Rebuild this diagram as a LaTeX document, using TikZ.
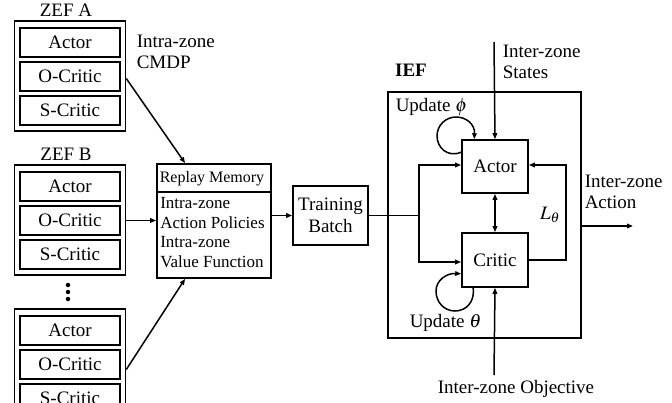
\documentclass[tikz,border=0pt]{standalone}
\usepackage{mathptmx}
\usepackage{fontspec}
\setmainfont{Liberation Serif}
\usetikzlibrary{arrows.meta,calc}

\begin{document}
\begin{tikzpicture}[x=1pt,y=-1pt,
  line width=1.5pt,
  tip/.tip={Triangle[length=6pt,width=4.5pt]},
  arr/.style={-tip},
  dbl/.style={tip-tip},
  txt/.style={font=\fontsize{19}{21}\selectfont, inner sep=0pt, align=left},
  rmhead/.style={font=\fontsize{16}{19}\selectfont, inner sep=0pt},
  rmtxt/.style={font=\fontsize{17}{19.4}\selectfont, inner sep=0pt, align=left},
  zef/.style={draw, line width=1.6pt, minimum width=111pt, minimum height=110pt, inner sep=0pt},
  part/.style={draw, line width=1.9pt, minimum width=100pt, minimum height=29pt, inner sep=0pt,
               font=\fontsize{19}{21}\selectfont},
  blk/.style={draw, line width=1.6pt, inner sep=0pt, align=center,
              font=\fontsize{19}{22}\selectfont},
  dot/.style={circle, fill, inner sep=0pt, minimum size=4.5pt}
]
\clip (0,0) rectangle (672,402);

% ---- zone execution frameworks (left column) ----
\foreach \n [count=\i from 0] in {A, B, C} {
  \pgfmathsetmacro{\top}{21+144*\i}
  \node[zef] (zef\n) at (70,\top+55) {};
  \node[part] (act\n) at (70,\top+21.5) {Actor};
  \node[part] (oc\n)  at (70,\top+55.5) {O-Critic};
  \node[part] (sc\n)  at (70,\top+89.5) {S-Critic};
}
\node[txt] (labA) at (66,10) {ZEF A};
\node[txt] (labB) at (66,154) {ZEF B};
\node[dot] (d1) at (68,285) {};
\node[dot] (d2) at (68,292) {};
\node[dot] (d3) at (68,299) {};

\node[txt, anchor=west] (cmdp) at (136,52) {Intra-zone\\CMDP};

% ---- replay memory ----
\node[draw, line width=1.6pt, minimum width=114pt, minimum height=114pt, inner sep=0pt]
  (rm) at (214,221) {};
\draw[line width=1.6pt] ($(rm.north west)+(0,29)$) -- ($(rm.north east)+(0,29)$);
\node[rmhead] (rmh) at (212,179) {Replay Memory};
\node[rmtxt, anchor=north west] (rmb) at (159.5,197)
  {Intra-zone\\Action Policies\\Intra-zone\\Value Function};

\coordinate (inA) at ($(rm.north west)!0.25!(rm.north east)$);
\coordinate (inC) at ($(rm.south west)!0.25!(rm.south east)$);
\draw[arr] (zefA.east |- ocA) ++(0,2) -- (inA);
\draw[arr] (zefB.east |- ocB) -- (rm.west |- ocB);
\draw[arr] (zefC.east |- ocC) ++(0,5) -- (inC);

% ---- training batch ----
\node[blk, minimum width=75pt, minimum height=59pt] (tb) at (330.5,215.5) {Training\\Batch};
\draw[arr] (rm.east |- tb.west) -- (tb.west);

% ---- inter-zone execution framework ----
\node[draw, line width=1.6pt, minimum width=193pt, minimum height=246pt, inner sep=0pt]
  (ief) at (484.5,215) {};
\node[txt, font=\fontsize{19}{21}\selectfont\bfseries] (ieflab) at (411,70) {IEF};
\node[blk, minimum width=66pt, minimum height=53pt] (actor) at (495,166.5) {Actor};
\node[blk, minimum width=66pt, minimum height=54pt] (critic) at (495,260) {Critic};

\coordinate (br) at (419,215.5);
\draw (tb.east) -- (br);
\draw[arr] (br) |- ($(actor.west)+(0,-1.5)$);
\draw[arr] (br) |- ($(critic.west)+(0,2)$);
\draw[dbl] (actor.south) -- (critic.north);

% loss path back to the actor
\coordinate (lt) at (566,0);
\draw[arr] (critic.east) -- (lt |- critic.east) |- ($(actor.east)+(0,-1.5)$);
\node[txt] (ltheta) at (550,215) {$L_\theta$};

% self-update loops
\coordinate (aS) at ($(actor.north west)+(0,13)$);
\coordinate (aE) at ($(actor.north west)+(13,0)$);
\draw[arr] (aS) .. controls (447,158) and (437,147) .. (437,136)
  .. controls (437,125) and (446,117) .. (456,117)
  .. controls (466,117) and (475,124) .. (aE);
\node[txt, anchor=west] (updphi) at (395,107) {Update $\phi$};

\coordinate (cS) at ($(critic.south west)+(12,0)$);
\coordinate (cE) at ($(critic.south west)+(0,-14)$);
\draw[arr] (cS) .. controls (475,302) and (466,311) .. (455,311)
  .. controls (444,311) and (436,302) .. (436,291)
  .. controls (436,280) and (447,273) .. (cE);
\node[txt, anchor=west] (updth) at (409,323) {Update $\theta$};

% external inputs and output
\coordinate (sIn) at (494,42);
\draw[arr] (sIn) -- (actor.north);
\node[txt, anchor=west] (states) at (502,62) {Inter-zone\\States};

\coordinate (oIn) at (494,375);
\draw[arr] (oIn) -- (critic.south);
\node[txt] (obj) at (516,389) {Inter-zone Objective};

\coordinate (aOut) at (633,226);
\draw[arr] (ief.east |- aOut) -- (aOut);
\node[txt, anchor=west] (act) at (584,192) {Inter-zone\\Action};
\end{tikzpicture}
\end{document}
